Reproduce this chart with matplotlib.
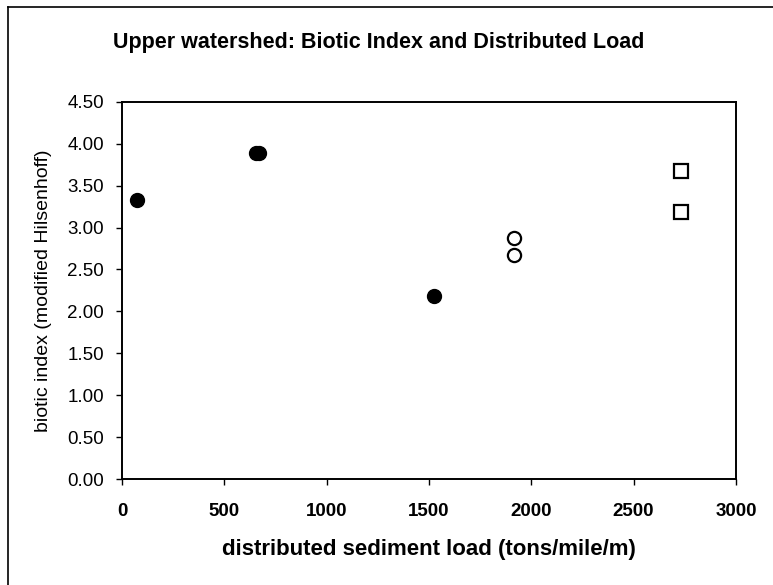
import matplotlib.pyplot as plt
from matplotlib.lines import Line2D

# values
filled_x = [75, 655, 668, 1525]
filled_y = [3.33, 3.89, 3.89, 2.18]
open_x = [1915, 1915]
open_y = [2.88, 2.67]
square_x = [2730, 2730]
square_y = [3.67, 3.19]

x_ticks = [0, 500, 1000, 1500, 2000, 2500, 3000]
y_ticks = [0.0, 0.5, 1.0, 1.5, 2.0, 2.5, 3.0, 3.5, 4.0, 4.5]

plt.rcParams['font.family'] = ['Liberation Sans', 'DejaVu Sans']

fig = plt.figure(figsize=(7.73, 5.85), dpi=100)
ax = fig.add_axes([0.158, 0.181, 0.794, 0.645])

ax.plot(filled_x, filled_y, 'o', ms=10, mfc='black', mec='black', ls='none')
ax.plot(open_x, open_y, 'o', ms=9.5, mfc='white', mec='black', mew=1.6, ls='none')
ax.plot(square_x, square_y, 's', ms=10, mfc='white', mec='black', mew=1.6, ls='none')

ax.set_xlim(0, 3000)
ax.set_ylim(0, 4.5)
ax.set_xticks(x_ticks)
ax.set_yticks(y_ticks)
ax.set_xticklabels([str(v) for v in x_ticks], fontsize=13.5, fontweight='bold')
ax.set_yticklabels(['%.2f' % v for v in y_ticks], fontsize=13.5)
ax.tick_params(axis='both', direction='out', length=4, width=1, color='black')
ax.tick_params(axis='x', pad=13)
ax.tick_params(axis='y', pad=9)
for s in ax.spines.values():
    s.set_linewidth(1.4)
    s.set_color('black')

ax.set_xlabel('distributed sediment load (tons/mile/m)', fontsize=16,
              fontweight='bold', labelpad=14)
ax.set_ylabel('biotic index (modified Hilsenhoff)', fontsize=14, labelpad=11)
fig.text(0.49, 0.928, 'Upper watershed: Biotic Index and Distributed Load',
         ha='center', va='center', fontsize=15.5, fontweight='bold')

# outer chart frame (cut off at right and bottom in the scan)
fig.add_artist(Line2D([8 / 773, 1], [1 - 7 / 585] * 2, color='black', lw=1.2,
                      transform=fig.transFigure))
fig.add_artist(Line2D([8 / 773] * 2, [0, 1 - 7 / 585], color='black', lw=1.2,
                      transform=fig.transFigure))

fig.savefig('out.png', dpi=100)
